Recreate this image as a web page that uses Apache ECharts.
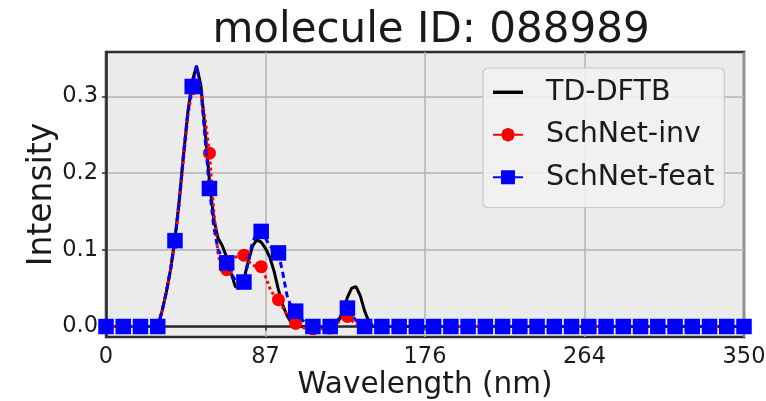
<!DOCTYPE html>
<html><head><meta charset="utf-8">
<script src="https://cdn.jsdelivr.net/npm/echarts@6/dist/echarts.min.js"></script>
<style>html,body{margin:0;padding:0;background:#fff}#c{width:766px;height:401px}</style>
</head><body><div id="c"></div><script>
const titleText = 'molecule ID: 088989';
const seriesNames = ['TD-DFTB', 'SchNet-inv', 'SchNet-feat'];
const xAxisName = 'Wavelength (nm)';
const yAxisName = 'Intensity';
const xTickValues = [0, 87.5, 175, 262.5, 350];
const xTickLabels = ['0', '87', '176', '264', '350'];
const yTickValues = [0, 0.1, 0.2, 0.3];
const yTickLabels = ['0.0', '0.1', '0.2', '0.3'];
const xMax = 350;
const markEvery = 4;

const tdDftb = [
  0,0,0,0,0,0,0,0,0,0,0,0,
  0.0,0.02,0.045,0.075,0.115,0.165,0.225,0.28,0.32,0.34,0.315,0.255,0.19,0.14,0.115,0.105,
  0.09,0.07,0.052,0.05,0.062,0.085,0.105,0.113,0.11,0.102,0.09,0.072,0.048,0.028,0.014,0.005,
  0,0,0,0,0,0,0,0,0,
  0.002,0.008,0.02,0.038,0.05,0.052,0.04,0.02,0.006,
  0,0,0,0,0,0,0,0,0,0,0,0,0,0,0,0,0,0,0,0,0,0,0,0,0,0,0,0,0,
  0,0,0,0,0,0,0,0,0,0,0,0,0,0,0,0,0,0,0,0,0,0,0,0,0,0,0,0,0,
  0,0,0,0,0,0,0,0,0,0,0,0,0,0,0,0,0,0,0,0,0,0,0,0,0,0,0,0,0
];
const schnetInv = [
  0,0,0,0,0,0,0,0,0,0,0,0,0,
  0.02,0.045,0.075,0.11,0.16,0.22,0.275,0.31,0.325,0.305,0.27,0.226,0.15,0.095,0.07,0.074,
  0.085,0.09,0.094,0.093,0.085,0.08,0.078,0.078,0.065,0.05,0.04,0.035,0.025,0.015,0.008,0.004,
  0.0,-0.002,-0.003,-0.003,-0.003,-0.003,-0.003,-0.002,0.002,0.006,0.011,0.013,0.008,0.003,0.0,0.0,
  0,0,0,0,0,0,0,0,0,0,0,0,0,0,0,0,0,0,0,0,0,0,
  0,0,0,0,0,0,0,0,0,0,0,0,0,0,0,0,0,0,0,0,0,0,
  0,0,0,0,0,0,0,0,0,0,0,0,0,0,0,0,0,0,0,0,0,0,
  0,0,0,0,0,0,0,0,0,0,0,0,0,0,0,0,0,0,0,0,0,0
];
const schnetFeat = [
  0,0,0,0,0,0,0,0,0,0,0,0,0,
  0.02,0.045,0.075,0.112,0.165,0.225,0.28,0.313,0.34,0.31,0.245,0.18,0.13,0.1,0.09,0.083,
  0.07,0.06,0.055,0.058,0.085,0.11,0.122,0.124,0.115,0.105,0.1,0.096,0.07,0.04,0.025,0.02,
  0.012,0.006,0.002,0.0,0,0,0,0,0.004,0.01,0.018,0.024,0.015,0.008,0.003,0.0,
  0,0,0,0,0,0,0,0,0,0,0,0,0,0,0,0,0,0,0,0,0,0,
  0,0,0,0,0,0,0,0,0,0,0,0,0,0,0,0,0,0,0,0,0,0,
  0,0,0,0,0,0,0,0,0,0,0,0,0,0,0,0,0,0,0,0,0,0,
  0,0,0,0,0,0,0,0,0,0,0,0,0,0,0,0,0,0,0,0,0,0
];

function toPairs(arr) {
  const n = arr.length;
  return arr.map((v, j) => [j * xMax / (n - 1), v]);
}
function markerAt(type) {
  return function (value, params) {
    return params.dataIndex % markEvery === 0 ? type : 'none';
  };
}
const FONT = 'DejaVu Sans';
const TXT = '#1a1a1a';
const chart = echarts.init(document.getElementById('c'), null, {renderer: 'canvas'});
chart.setOption({
  animation: false,
  backgroundColor: '#ffffff',
  title: {
    text: titleText, left: 426, top: 5, textAlign: 'center',
    textStyle: {fontFamily: FONT, fontSize: 42, fontWeight: 'normal', color: TXT}
  },
  grid: {
    left: 106, right: 22, top: 52, bottom: 64, containLabel: false, outerBoundsMode: 'none',
    show: true, backgroundColor: '#ebebeb', borderColor: '#2b2b2b', borderWidth: 2.5
  },
  legend: {
    orient: 'vertical', left: 483, top: 68,
    padding: [9, 10, 15, 10], itemGap: 12, itemWidth: 30, itemHeight: 14,
    backgroundColor: 'rgba(242,242,242,0.85)', borderColor: '#c8c8c8', borderWidth: 1.2, borderRadius: 5,
    textStyle: {fontFamily: FONT, fontSize: 28.5, color: TXT, lineHeight: 30.5, padding: [0, 0, 0, 18]},
    data: [
      {name: seriesNames[0], icon: 'path://M0,3.4L28,3.4L28,6.6L0,6.6Z'},
      {name: seriesNames[1], icon: 'path://M0,5.5L28,5.5L28,7.5L0,7.5Z M14,0L18.6,1.9L20.5,6.5L18.6,11.1L14,13L9.4,11.1L7.5,6.5L9.4,1.9Z'},
      {name: seriesNames[2], icon: 'path://M0,5.5L28,5.5L28,7.5L0,7.5Z M7.5,0L20.5,0L20.5,13L7.5,13Z'}
    ]
  },
  xAxis: {
    type: 'value', min: 0, max: xMax,
    name: xAxisName, nameLocation: 'middle', nameGap: 33, nameMoveOverlap: false,
    nameTextStyle: {fontFamily: FONT, fontSize: 29.5, color: TXT},
    axisLine: {show: true, lineStyle: {color: '#2b2b2b', width: 2.5}},
    axisTick: {show: true, length: 4, customValues: xTickValues, lineStyle: {color: '#2b2b2b', width: 1.5}},
    axisLabel: {
      customValues: xTickValues, margin: 9, fontFamily: FONT, fontSize: 22.5, color: TXT,
      formatter: v => { const k = xTickValues.indexOf(v); return k >= 0 ? xTickLabels[k] : ''; }
    },
    splitLine: {show: true, lineStyle: {color: '#b3b3b3', width: 1.5}}
  },
  yAxis: {
    type: 'value', min: -0.0137, max: 0.358,
    name: yAxisName, nameLocation: 'middle', nameGap: 47, nameMoveOverlap: false,
    nameTextStyle: {fontFamily: FONT, fontSize: 33, color: TXT},
    axisLine: {show: true, lineStyle: {color: '#2b2b2b', width: 2.5}},
    axisTick: {show: true, length: 4, customValues: yTickValues, lineStyle: {color: '#2b2b2b', width: 1.5}},
    axisLabel: {
      customValues: yTickValues, margin: 8, fontFamily: FONT, fontSize: 22.5, color: TXT,
      formatter: v => { const k = yTickValues.findIndex(t => Math.abs(t - v) < 1e-9); return k >= 0 ? yTickLabels[k] : ''; }
    },
    splitLine: {show: true, lineStyle: {color: '#b3b3b3', width: 1.5}}
  },
  series: [
    {
      name: seriesNames[0], type: 'line', data: toPairs(tdDftb),
      showSymbol: false, symbol: 'none', color: '#000000',
      lineStyle: {color: '#000000', width: 3}, z: 2
    },
    {
      name: seriesNames[1], type: 'line', data: toPairs(schnetInv),
      showAllSymbol: true, symbol: markerAt('circle'), symbolSize: 13, color: '#ff0000',
      itemStyle: {color: '#ff0000'},
      lineStyle: {color: '#ff0000', width: 3, type: 'dotted'}, z: 3
    },
    {
      name: seriesNames[2], type: 'line', data: toPairs(schnetFeat),
      showAllSymbol: true, symbol: markerAt('rect'), symbolSize: 15.5, color: '#0000ff',
      itemStyle: {color: '#0000ff'},
      lineStyle: {color: '#0000ff', width: 3, type: [6, 4]}, z: 4
    }
  ]
});
</script></body></html>
